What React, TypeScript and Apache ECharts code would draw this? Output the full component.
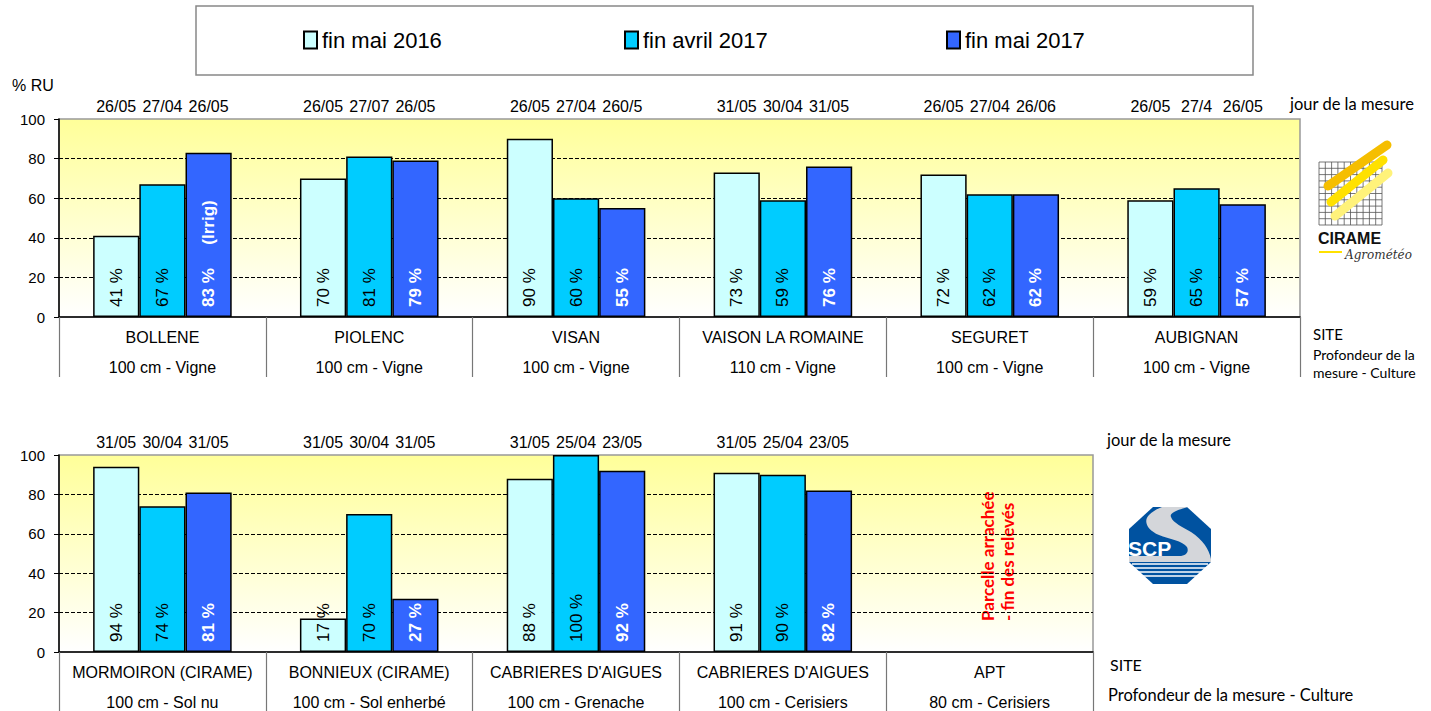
import React, { useEffect, useRef } from 'react';
import * as echarts from 'echarts';

// ---------- DATA ----------
const seriesNames = ['fin mai 2016', 'fin avril 2017', 'fin mai 2017'];

const topSites = ['BOLLENE', 'PIOLENC', 'VISAN', 'VAISON LA ROMAINE', 'SEGURET', 'AUBIGNAN'];
const topDepths = ['100 cm - Vigne', '100 cm - Vigne', '100 cm - Vigne', '110 cm - Vigne', '100 cm - Vigne', '100 cm - Vigne'];
const topMay2016 = [41, 70, 90, 73, 72, 59];
const topApr2017 = [67, 81, 60, 59, 62, 65];
const topMay2017 = [83, 79, 55, 76, 62, 57];
const topDatesMay2016 = ['26/05', '26/05', '26/05', '31/05', '26/05', '26/05'];
const topDatesApr2017 = ['27/04', '27/07', '27/04', '30/04', '27/04', '27/4'];
const topDatesMay2017 = ['26/05', '26/05', '260/5', '31/05', '26/06', '26/05'];
const topNotesMay2017 = ['(Irrig)', '', '', '', '', ''];

const bottomSites = ['MORMOIRON (CIRAME)', 'BONNIEUX (CIRAME)', "CABRIERES D'AIGUES", "CABRIERES D'AIGUES", 'APT'];
const bottomDepths = ['100 cm - Sol nu', '100 cm - Sol enherbé', '100 cm - Grenache', '100 cm - Cerisiers', '80 cm - Cerisiers'];
const bottomMay2016 = [94, 17, 88, 91, null];
const bottomApr2017 = [74, 70, 100, 90, null];
const bottomMay2017 = [81, 27, 92, 82, null];
const bottomDatesMay2016 = ['31/05', '31/05', '31/05', '31/05', ''];
const bottomDatesApr2017 = ['30/04', '30/04', '25/04', '25/04', ''];
const bottomDatesMay2017 = ['31/05', '31/05', '23/05', '23/05', ''];
const bottomNotesMay2017 = ['', '', '', '', ''];

const aptNote = 'Parcelle arrachée\n- fin des relevés';

// ---------- STYLE ----------
const colors = ['#CCFFFF', '#00CCFF', '#3366FF'];
const legendLefts = [303, 624, 946];
const ARIAL = '"Liberation Sans", Arial, sans-serif';
const CALIBRI = 'Lato, "Noto Sans", sans-serif';

echarts.graphic.registerShape(
  'scpSwoosh',
  echarts.graphic.extendPath(
    'M 33 0 L 59 0 C 48 3 40 6 42 10 C 44 16 54 20 62 25 C 74 33 80 42 82 52 L 82 55 L 0 55 L 0 49 L 50 49 C 58 49 60 44 58 40 C 54 34 40 32 30 28 C 18 23 14 14 20 8 C 24 4 28 2 33 0 Z',
    {}
  )
);

function makeCats(sites: string[], depths: string[]) {
  return sites.map((s, i) => s + '\n' + depths[i]);
}

function makeX(gridIndex: number, data: string[], tickLen: number) {
  return {
    type: 'category',
    gridIndex,
    data,
    axisLine: { show: true, lineStyle: { color: '#000', width: 1.5 } },
    axisTick: { show: true, interval: 0, length: tickLen, lineStyle: { color: '#777', width: 1.2 } },
    axisLabel: {
      interval: 0,
      margin: 5,
      color: '#000',
      formatter: (v: string) => {
        const [a, b] = v.split('\n');
        return `{n|${a}}\n{d|${b}}`;
      },
      rich: {
        n: { fontSize: 16, lineHeight: 30, fontFamily: ARIAL, color: '#000' },
        d: { fontSize: 16, lineHeight: 30, fontFamily: ARIAL, color: '#000' },
      },
    },
    splitLine: { show: false },
  };
}

function makeY(gridIndex: number) {
  return {
    type: 'value',
    gridIndex,
    min: 0,
    max: 100,
    interval: 20,
    axisLine: { show: true, lineStyle: { color: '#000', width: 1.5 } },
    axisTick: { show: true, length: 5, lineStyle: { color: '#000' } },
    axisLabel: { color: '#000', fontSize: 15, margin: 14, fontFamily: ARIAL },
    splitLine: {
      show: true,
      showMinLine: false,
      showMaxLine: false,
      lineStyle: { color: '#000', type: [4, 2], width: 1 },
    },
  };
}

function makeSeries(
  idx: number,
  values: (number | null)[][],
  dates: string[][],
  notes: string[][]
) {
  const out: any[] = [];
  for (let k = 0; k < 3; k++) {
    const stack = 'g' + idx + '_' + k;
    const white = k === 2;
    out.push({
      type: 'bar',
      name: seriesNames[k],
      xAxisIndex: idx,
      yAxisIndex: idx,
      stack,
      barCategoryGap: '33%',
      barGap: '0%',
      data: values[k],
      itemStyle: { color: colors[k], borderColor: '#000', borderWidth: 1.5 },
      label: {
        show: true,
        position: 'insideBottom',
        distance: 10,
        rotate: 90,
        align: 'left',
        verticalAlign: 'middle',
        fontSize: 17,
        fontFamily: ARIAL,
        fontWeight: white ? 'bold' : 'normal',
        color: white ? '#fff' : '#000',
        formatter: (p: any) => {
          if (p.value == null) return '';
          const note = notes[k][p.dataIndex];
          return p.value + ' %' + (note ? '\u00A0\u00A0\u00A0\u00A0\u00A0' + note : '');
        },
      },
    });
    out.push({
      type: 'bar',
      name: 'date_' + idx + '_' + k,
      xAxisIndex: idx,
      yAxisIndex: idx,
      stack,
      silent: true,
      barCategoryGap: '33%',
      barGap: '0%',
      data: values[k].map((v) => (v == null ? null : 100 - v)),
      itemStyle: { color: 'rgba(0,0,0,0)', borderWidth: 0 },
      label: {
        show: true,
        position: 'top',
        distance: 5,
        fontSize: 16,
        fontFamily: ARIAL,
        color: '#000',
        formatter: (p: any) => dates[k][p.dataIndex] || '',
      },
    });
  }
  return out;
}

function bg() {
  return new echarts.graphic.LinearGradient(0, 0, 0, 1, [
    { offset: 0, color: '#FFFF99' },
    { offset: 1, color: '#FFFFFF' },
  ]);
}

function txt(text: string, x: number, y: number, font: string, extra: any = {}) {
  return {
    type: 'text',
    x,
    y,
    silent: true,
    style: {
      text,
      font,
      fill: '#000',
      textAlign: 'left',
      textVerticalAlign: 'middle',
      align: 'left',
      verticalAlign: 'middle',
      ...extra,
    },
  };
}

function ciramLogo() {
  const els: any[] = [];
  const x0 = 1319, y0 = 162, n = 10, c = 6.3;
  for (let i = 0; i <= n; i++) {
    els.push({ type: 'line', silent: true, shape: { x1: x0 + i * c, y1: y0, x2: x0 + i * c, y2: y0 + n * c }, style: { stroke: '#555', lineWidth: 0.8 } });
    els.push({ type: 'line', silent: true, shape: { x1: x0, y1: y0 + i * c, x2: x0 + n * c, y2: y0 + i * c }, style: { stroke: '#555', lineWidth: 0.8 } });
  }
  els.push({ type: 'line', silent: true, shape: { x1: 1328, y1: 186, x2: 1387, y2: 145 }, style: { stroke: '#F5BE00', lineWidth: 9, lineCap: 'round' } });
  els.push({ type: 'line', silent: true, shape: { x1: 1331, y1: 202, x2: 1383, y2: 160 }, style: { stroke: '#FFE100', lineWidth: 9, lineCap: 'round' } });
  els.push({ type: 'line', silent: true, shape: { x1: 1335, y1: 216, x2: 1388, y2: 173 }, style: { stroke: '#FFF27A', lineWidth: 9, lineCap: 'round' } });
  els.push(txt('CIRAME', 1318, 238, 'bold 16px ' + ARIAL, { fill: '#111' }));
  els.push({ type: 'line', silent: true, shape: { x1: 1319, y1: 252, x2: 1342, y2: 252 }, style: { stroke: '#FFE100', lineWidth: 2 } });
  els.push(txt('Agrométéo', 1345, 255, 'italic 12px "DejaVu Serif", serif', { fill: '#333' }));
  return els;
}

function scpLogo() {
  const bx = 1129, by = 507;
  const els: any[] = [];
  els.push({
    type: 'polygon',
    silent: true,
    shape: { points: [[bx + 24, by], [bx + 58, by], [bx + 82, by + 22], [bx + 82, by + 55], [bx + 58, by + 77], [bx + 24, by + 77], [bx, by + 55], [bx, by + 22]] },
    style: { fill: '#0052A0' },
  });
  els.push({ type: 'scpSwoosh', silent: true, x: bx, y: by, scaleX: 1, scaleY: 1, style: { fill: '#D4D6DA' } });
  els.push(txt('SCP', bx - 1, by + 41, 'bold 21px ' + ARIAL, { fill: '#fff' }));
  [57, 61, 65, 69].forEach((dy) => {
    els.push({ type: 'line', silent: true, shape: { x1: bx + 3, y1: by + dy, x2: bx + 79, y2: by + dy }, style: { stroke: '#fff', lineWidth: 1.3 } });
  });
  return els;
}

export default function App() {
  const ref = useRef<HTMLDivElement>(null);
  useEffect(() => {
    document.body.style.margin = '0';
    if (!ref.current) return;
    const chart = echarts.init(ref.current, undefined, { renderer: 'svg' });
    const legends = seriesNames.map((name, i) => ({
      data: [name],
      left: legendLefts[i],
      top: 29,
      padding: 0,
      icon: 'rect',
      itemWidth: 13,
      itemHeight: 17,
      selectedMode: false,
      textStyle: { fontSize: 22, color: '#000', fontFamily: '"Liberation Sans Narrow", ' + ARIAL },
    }));
    const option: any = {
      animation: false,
      textStyle: { fontFamily: ARIAL },
      legend: legends,
      grid: [
        { left: 59, top: 119, width: 1241, height: 198, show: true, backgroundColor: bg(), borderColor: '#999', borderWidth: 1.5 },
        { left: 59, top: 455, width: 1034, height: 197, show: true, backgroundColor: bg(), borderColor: '#999', borderWidth: 1.5 },
      ],
      xAxis: [makeX(0, makeCats(topSites, topDepths), 60), makeX(1, makeCats(bottomSites, bottomDepths), 60)],
      yAxis: [makeY(0), makeY(1)],
      series: [
        ...makeSeries(0, [topMay2016, topApr2017, topMay2017], [topDatesMay2016, topDatesApr2017, topDatesMay2017], [['', '', '', '', '', ''], ['', '', '', '', '', ''], topNotesMay2017]),
        ...makeSeries(1, [bottomMay2016, bottomApr2017, bottomMay2017], [bottomDatesMay2016, bottomDatesApr2017, bottomDatesMay2017], [['', '', '', '', ''], ['', '', '', '', ''], bottomNotesMay2017]),
      ],
      graphic: [
        { type: 'rect', silent: true, shape: { x: 196, y: 6, width: 1057, height: 69 }, style: { fill: 'none', stroke: '#888', lineWidth: 1.5 } },
        txt('% RU', 12, 85, '16px ' + ARIAL),
        txt('jour de la mesure', 1290, 104, '16.5px ' + CALIBRI),
        txt('jour de la mesure', 1107, 440, '16.5px ' + CALIBRI),
        txt('SITE', 1313, 334, '15px ' + CALIBRI),
        txt('Profondeur de la', 1313, 354, '14px ' + CALIBRI),
        txt('mesure - Culture', 1313, 372, '14px ' + CALIBRI),
        txt('SITE', 1110, 664, '16px ' + CALIBRI),
        txt('Profondeur de la mesure - Culture', 1108, 695, '16.5px ' + CALIBRI),
        {
          type: 'text',
          x: 997,
          y: 621,
          rotation: Math.PI / 2,
          silent: true,
          style: {
            text: aptNote,
            font: 'bold 17px ' + CALIBRI,
            fill: '#FF0000',
            lineHeight: 20,
            textAlign: 'left',
            textVerticalAlign: 'middle',
            align: 'left',
            verticalAlign: 'middle',
          },
        },
        ...ciramLogo(),
        ...scpLogo(),
      ],
    };
    chart.setOption(option);
    return () => chart.dispose();
  }, []);
  return <div ref={ref} style={{ width: 1431, height: 711 }} />;
}
